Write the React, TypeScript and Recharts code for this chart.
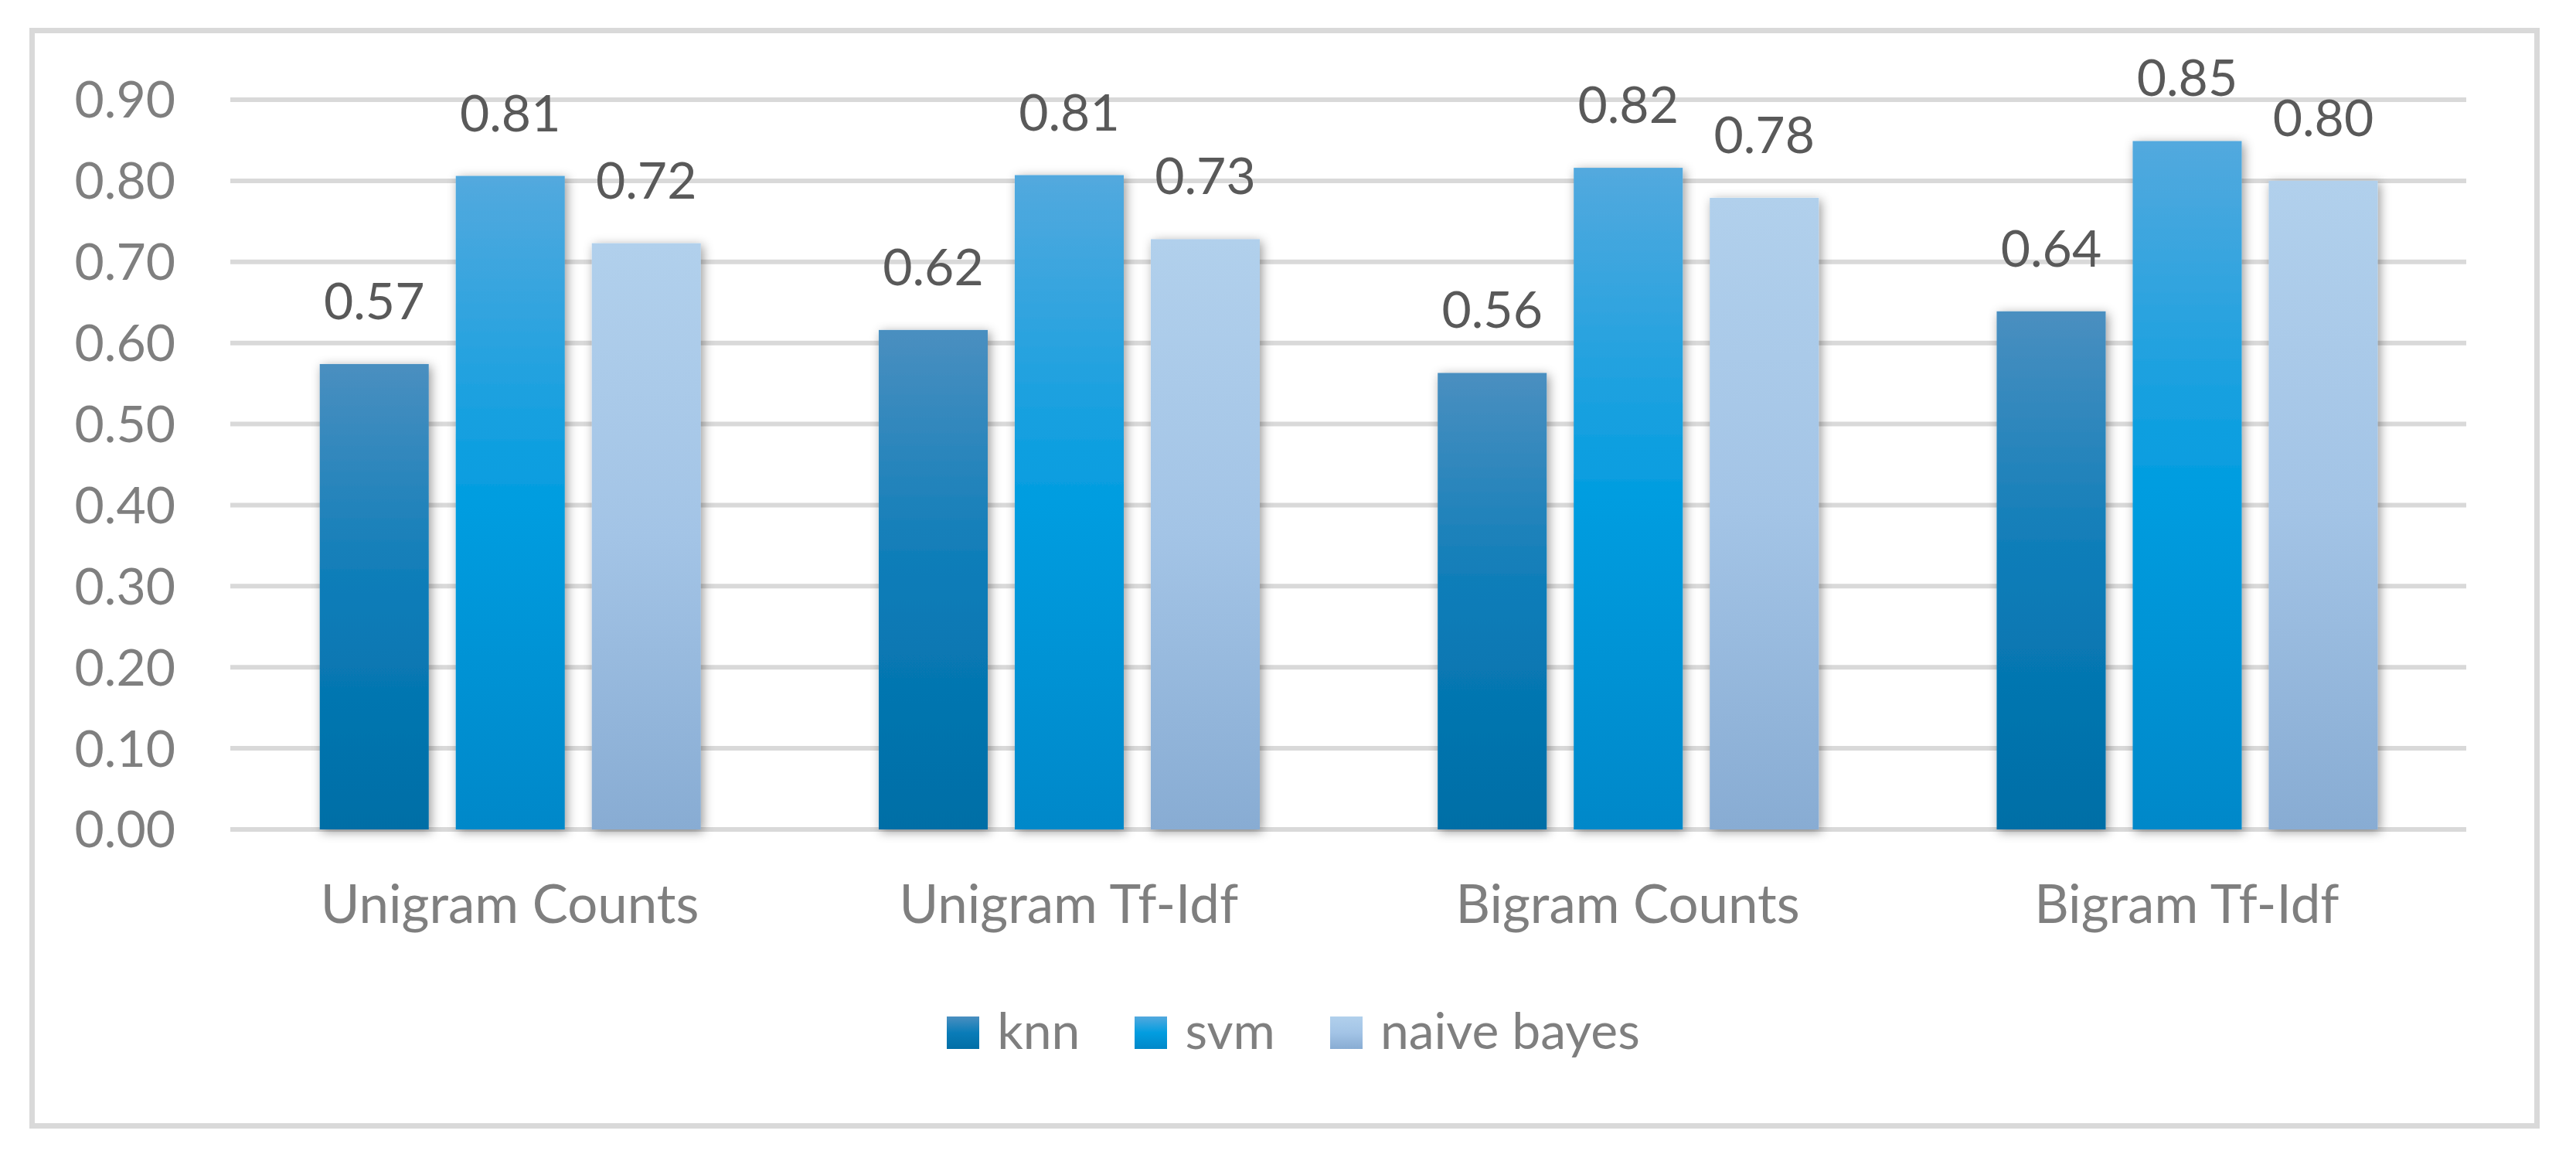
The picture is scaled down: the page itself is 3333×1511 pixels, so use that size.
import React from "react";
import {
  BarChart,
  Bar,
  XAxis,
  YAxis,
  CartesianGrid,
  Legend,
  LabelList,
} from "recharts";

const categories = [
  "Unigram Counts",
  "Unigram Tf-Idf",
  "Bigram Counts",
  "Bigram Tf-Idf",
];
const knnValues = [0.574, 0.616, 0.563, 0.639];
const svmValues = [0.806, 0.807, 0.816, 0.849];
const naiveBayesValues = [0.723, 0.728, 0.779, 0.8];
const yTicks = [0, 0.1, 0.2, 0.3, 0.4, 0.5, 0.6, 0.7, 0.8, 0.9];

const FONT = "Lato, 'Open Sans', sans-serif";
const AXIS_GREY = "#7f7f7f";

const series = [
  { key: "knn", name: "knn", stops: ["#4a8fc0", "#0a7cb8", "#006ea6"] },
  { key: "svm", name: "svm", stops: ["#53a9de", "#029de0", "#0088c9"] },
  {
    key: "naiveBayes",
    name: "naive bayes",
    stops: ["#b1d0ec", "#a3c4e6", "#88acd3"],
  },
];

const data = categories.map((name, i) => ({
  name,
  knn: knnValues[i],
  svm: svmValues[i],
  naiveBayes: naiveBayesValues[i],
}));

const ShadowBar = (props: any) => {
  const { x, y, width, height, fill } = props;
  if (!height || height <= 0) return null;
  return (
    <rect
      x={x}
      y={y}
      width={width}
      height={height}
      fill={fill}
      filter="url(#barShadow)"
    />
  );
};

const LegendContent = () => (
  <div
    style={{
      display: "flex",
      justifyContent: "center",
      alignItems: "baseline",
      height: 80,
      lineHeight: "80px",
      fontFamily: FONT,
      fontSize: 66,
      color: AXIS_GREY,
      paddingLeft: 156,
    }}
  >
    {series.map((s, i) => (
      <div
        key={s.key}
        style={{
          display: "flex",
          alignItems: "baseline",
          marginLeft: i === 0 ? 0 : 71,
        }}
      >
        <div
          style={{
            width: 42,
            height: 42,
            marginRight: 23,
            background: `linear-gradient(to bottom, ${s.stops[0]}, ${s.stops[1]} 50%, ${s.stops[2]})`,
          }}
        />
        <span>{s.name}</span>
      </div>
    ))}
  </div>
);

const App: React.FC = () => {
  return (
    <div
      style={{
        position: "absolute",
        left: 0,
        top: 0,
        width: 3333,
        height: 1511,
        background: "#ffffff",
      }}
    >
      <div
        style={{
          position: "absolute",
          left: 38,
          top: 36,
          width: 3248,
          height: 1424,
          border: "7px solid #d9d9d9",
          boxSizing: "border-box",
        }}
      />
      <div style={{ position: "absolute", left: 0, top: 0 }}>
        <BarChart
          width={3333}
          height={1511}
          data={data}
          margin={{ top: 129, right: 142, left: 0, bottom: 139 }}
          barCategoryGap="16%"
          barGap={35}
        >
          <defs>
            {series.map((s) => (
              <linearGradient
                key={s.key}
                id={`grad-${s.key}`}
                x1="0"
                y1="0"
                x2="0"
                y2="1"
              >
                <stop offset="0%" stopColor={s.stops[0]} />
                <stop offset="50%" stopColor={s.stops[1]} />
                <stop offset="100%" stopColor={s.stops[2]} />
              </linearGradient>
            ))}
            <filter
              id="barShadow"
              x="-30%"
              y="-10%"
              width="160%"
              height="120%"
            >
              <feDropShadow
                dx="3"
                dy="3"
                stdDeviation="7"
                floodColor="#000000"
                floodOpacity="0.4"
              />
            </filter>
          </defs>
          <CartesianGrid
            vertical={false}
            stroke="#d9d9d9"
            strokeWidth={6}
          />
          <XAxis
            dataKey="name"
            axisLine={false}
            tickLine={false}
            tickSize={6}
            tickMargin={66}
            height={219}
            interval={0}
            tick={{ fill: AXIS_GREY, fontSize: 69, fontFamily: FONT }}
          />
          <YAxis
            domain={[0, 0.9]}
            ticks={yTicks}
            width={298}
            axisLine={false}
            tickLine={false}
            tickSize={6}
            tickMargin={65}
            tickFormatter={(v: number) => v.toFixed(2)}
            tick={{ fill: AXIS_GREY, fontSize: 66, fontFamily: FONT }}
          />
          <Legend verticalAlign="bottom" content={<LegendContent />} />
          {series.map((s) => (
            <Bar
              key={s.key}
              dataKey={s.key}
              name={s.name}
              fill={`url(#grad-${s.key})`}
              shape={<ShadowBar />}
              isAnimationActive={false}
            >
              <LabelList
                dataKey={s.key}
                position="top"
                offset={58}
                fill="#595959"
                fontSize={66}
                fontFamily={FONT}
                formatter={(v: any) => Number(v).toFixed(2)}
              />
            </Bar>
          ))}
        </BarChart>
      </div>
    </div>
  );
};

export default App;
